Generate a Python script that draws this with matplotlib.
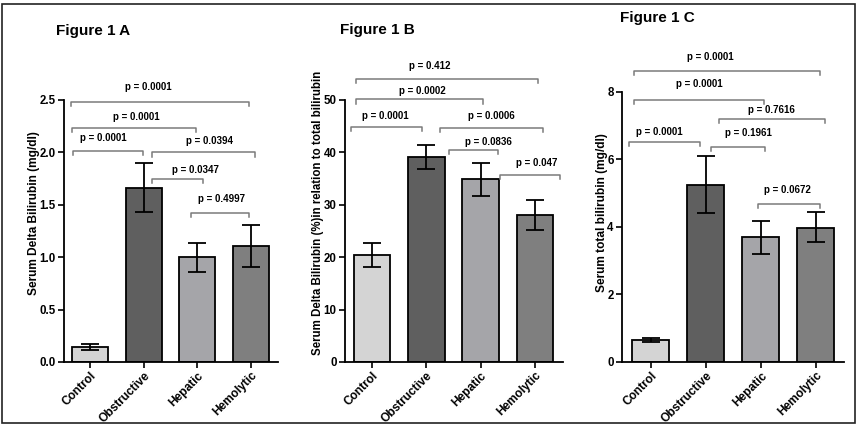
import matplotlib
matplotlib.use("Agg")
import matplotlib.pyplot as plt
from matplotlib.patches import Rectangle

plt.rcParams['font.family'] = ['Liberation Sans', 'DejaVu Sans']
plt.rcParams['font.weight'] = 'bold'

categories = ["Control", "Obstructive", "Hepatic", "Hemolytic"]
bar_colors = ["#d4d4d4", "#5f5f5f", "#a5a5a9", "#7f7f7f"]

# Panel A: Serum Delta Bilirubin (mg/dl)
a_mean = [0.14, 1.665, 1.00, 1.11]
a_low = [0.11, 1.43, 0.86, 0.91]
a_high = [0.17, 1.90, 1.14, 1.31]

# Panel B: Delta bilirubin % of total
b_mean = [20.5, 39.2, 34.9, 28.1]
b_low = [18.2, 36.9, 31.7, 25.1]
b_high = [22.7, 41.4, 37.9, 30.9]

# Panel C: Serum total bilirubin (mg/dl)
c_mean = [0.65, 5.24, 3.70, 3.98]
c_low = [0.60, 4.41, 3.20, 3.55]
c_high = [0.70, 6.09, 4.17, 4.43]

# significance brackets: (x0, x1, y, label, text_x, text_y)
a_brackets = [
    (-0.36, 2.96, 2.484, "p = 0.0001", 1.08, 2.62),
    (-0.34, 1.97, 2.23, "p = 0.0001", 0.86, 2.34),
    (-0.32, 0.98, 2.016, "p = 0.0001", 0.24, 2.14),
    (1.15, 3.07, 2.00, "p = 0.0394", 2.23, 2.11),
    (1.15, 2.10, 1.746, "p = 0.0347", 1.96, 1.83),
    (1.88, 2.96, 1.42, "p = 0.4997", 2.45, 1.555),
]
b_brackets = [
    (-0.29, 3.06, 54.1, "p = 0.412", 1.07, 56.4),
    (-0.29, 2.04, 50.1, "p = 0.0002", 0.92, 51.8),
    (-0.39, 0.92, 44.9, "p = 0.0001", 0.25, 46.9),
    (1.25, 3.15, 44.7, "p = 0.0006", 2.20, 46.9),
    (1.41, 2.32, 40.5, "p = 0.0836", 2.14, 42.0),
    (2.36, 3.46, 35.7, "p = 0.047", 3.03, 37.9),
]
c_brackets = [
    (-0.30, 3.07, 8.61, "p = 0.0001", 1.09, 9.02),
    (-0.30, 2.05, 7.76, "p = 0.0001", 0.89, 8.23),
    (1.25, 3.17, 7.19, "p = 0.7616", 2.19, 7.47),
    (-0.40, 0.89, 6.51, "p = 0.0001", 0.16, 6.80),
    (1.09, 2.07, 6.36, "p = 0.1961", 1.78, 6.77),
    (1.95, 3.08, 4.69, "p = 0.0672", 2.49, 5.08),
]

W, H = 859, 426
fig = plt.figure(figsize=(W / 100, H / 100), dpi=100)
fig.patch.set_facecolor("white")
fig.patches.append(Rectangle((2 / W, 3 / H), 853 / W, 419 / H, transform=fig.transFigure,
                             fill=False, edgecolor="#222222", linewidth=1.2))


def px_rect(left, right, top, bottom):
    return [left / W, 1 - bottom / H, (right - left) / W, (bottom - top) / H]


def panel(rect, xlim, means, lows, highs, ylim, yticks, yticklabels, ylabel, brackets, title, title_xy,
          ylabel_x, ylabel_size=8.6):
    ax = fig.add_axes(rect)
    xs = list(range(len(categories)))
    ax.bar(xs, means, width=0.67, color=bar_colors, edgecolor="black", linewidth=1.3, zorder=2)
    err = [[m - l for m, l in zip(means, lows)], [h - m for m, h in zip(means, highs)]]
    ax.errorbar(xs, means, yerr=err, fmt="none", ecolor="black", elinewidth=1.3, capsize=6.8,
                capthick=1.3, zorder=3)
    ax.set_xlim(*xlim)
    ax.set_ylim(*ylim)
    ax.set_yticks(yticks)
    ax.set_yticklabels(yticklabels, fontsize=8.3, fontweight="bold")
    ax.set_xticks(xs)
    ax.set_xticklabels(categories, rotation=45, ha="right", rotation_mode="anchor",
                       fontsize=8.6, fontweight="bold")
    for s in ["top", "right"]:
        ax.spines[s].set_visible(False)
    for s in ["left", "bottom"]:
        ax.spines[s].set_linewidth(1.3)
    ax.tick_params(axis="both", direction="out", length=4, width=1.2, pad=2)
    ax.tick_params(axis="x", pad=1.5)
    ax.set_ylabel(ylabel, fontsize=ylabel_size, fontweight="bold")
    ax.yaxis.set_label_coords(ylabel_x, 0.5, transform=fig.transFigure)
    ax.yaxis.label.set_transform(fig.transFigure)
    yr = ylim[1] - ylim[0]
    tick = yr * 0.016
    for x0, x1, y, lab, tx, ty in brackets:
        ax.plot([x0, x0, x1, x1], [y - tick, y, y, y - tick], color="#7a7a7a", lw=1.1,
                clip_on=False, zorder=4)
        ax.text(tx, ty, lab, ha="center", va="center", fontsize=7, fontweight="bold",
                clip_on=False)
    fig.text(title_xy[0] / W, 1 - title_xy[1] / H, title, fontsize=11, fontweight="bold",
             ha="left", va="center")
    return ax


panel(px_rect(64, 278, 100, 362), (-0.484, 3.503), a_mean, a_low, a_high, (0, 2.5),
      [0, 0.5, 1.0, 1.5, 2.0, 2.5], ["0.0", "0.5", "1.0", "1.5", "2.0", "2.5"],
      "Serum Delta Bilirubin (mg/dl)", a_brackets, "Figure 1 A", (56, 31), 40 / W)

panel(px_rect(345, 563, 100, 362), (-0.497, 3.516), b_mean, b_low, b_high, (0, 50),
      [0, 10, 20, 30, 40, 50], ["0", "10", "20", "30", "40", "50"],
      "Serum Delta Bilirubin (%)in relation to total bilirubin", b_brackets, "Figure 1 B",
      (340, 30), 324 / W, ylabel_size=8.3)

panel(px_rect(622, 844, 91.7, 362), (-0.518, 3.509), c_mean, c_low, c_high, (0, 8),
      [0, 2, 4, 6, 8], ["0", "2", "4", "6", "8"],
      "Serum total bilirubin (mg/dl)", c_brackets, "Figure 1 C", (620, 18), 608 / W)

fig.savefig("out.png", dpi=100, facecolor="white")
